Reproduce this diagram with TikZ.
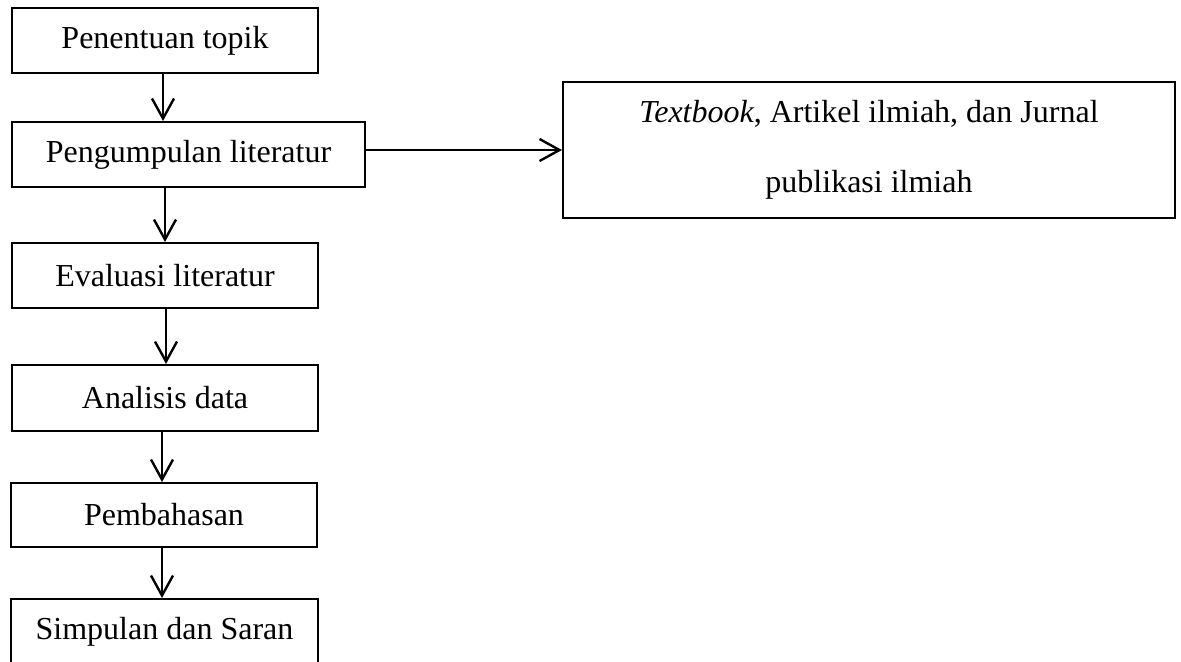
\documentclass[tikz,border=0pt]{standalone}
\usepackage{fontspec}
\setmainfont{Liberation Serif}
\usetikzlibrary{arrows.meta,calc}

\tikzset{
    stage/.style={draw, line width=1pt, inner sep=0pt, minimum height=32.5pt,
        font=\fontsize{16}{19}\selectfont},
    flow/.style={line width=1.2pt,
        -{Straight Barb[length=10pt,width=11pt,line width=1.2pt]}}
}

\begin{document}
\begin{tikzpicture}[x=0.5pt,y=-0.5pt]
    \useasboundingbox (0,0) rectangle (1181,661);
    \clip (0,0) rectangle (1181,661);

    % alur penelitian
    \node[stage, minimum width=153pt] (topik) at (165,40.5) {Penentuan topik};
    \node[stage, minimum width=176.5pt] (kumpul) at (188.5,154.5) {Pengumpulan literatur};
    \node[stage, minimum width=153pt] (evaluasi) at (165,275.5) {Evaluasi literatur};
    \node[stage, minimum width=153pt, minimum height=33pt] (analisis) at (165,398) {Analisis data};
    \node[stage, minimum width=153pt, minimum height=32pt] (bahas) at (164,515) {Pembahasan};
    \node[stage, minimum width=153.5pt] (simpulan) at (164.5,631.5) {Simpulan dan Saran};

    % sumber literatur
    \node[draw, line width=1pt, inner sep=0pt, minimum width=306pt, minimum height=68pt,
        align=center, font=\fontsize{16}{35}\selectfont] (sumber) at (869,150)
        {\textit{Textbook}, Artikel ilmiah, dan Jurnal\\publikasi ilmiah};

    \draw[flow] ($(topik.south)+(-2,0)$) -- ($(topik.south |- kumpul.north)+(-2,0)$);
    \draw[flow] (kumpul.south -| evaluasi.north) -- (evaluasi.north);
    \draw[flow] ($(evaluasi.south)+(1,0)$) -- ($(evaluasi.south |- analisis.north)+(1,0)$);
    \draw[flow] ($(analisis.south)+(-3,0)$) -- ($(analisis.south |- bahas.north)+(-3,0)$);
    \draw[flow] ($(bahas.south)+(-2,0)$) -- ($(bahas.south |- simpulan.north)+(-2,0)$);
    \draw[flow] (kumpul.east |- sumber.west) -- (sumber.west);

\end{tikzpicture}
\end{document}
